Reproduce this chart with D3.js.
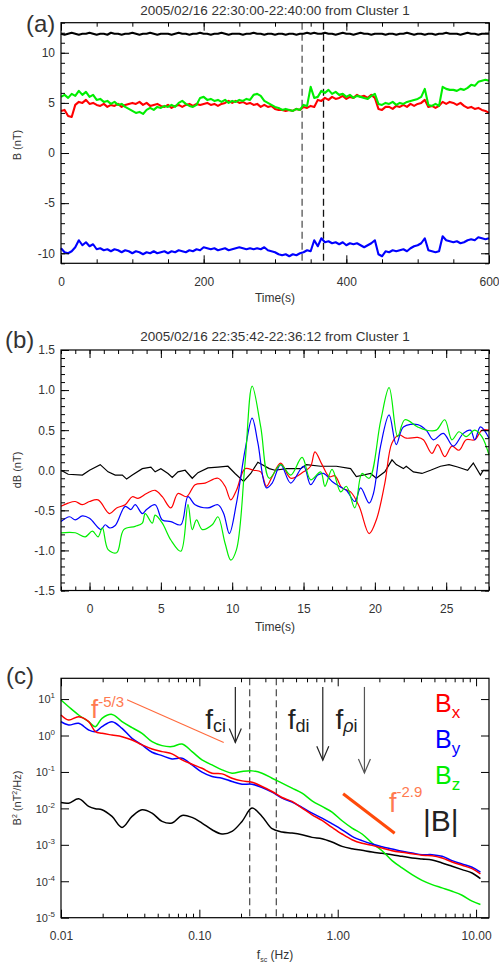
<!DOCTYPE html>
<html>
<head>
<meta charset="utf-8">
<script src="https://cdnjs.cloudflare.com/ajax/libs/d3/7.8.5/d3.min.js"></script>
<style>
body { margin: 0; background: #fff; }
svg { display: block; }
</style>
</head>
<body>
<div id="chart"></div>
<script>
// ---------- panel (a): 10 min of Cluster 1 field, 5 s samples ----------
var aTime = d3.range(0, 601, 5);
var aBx = [
  4.2, 4.3, 3.7, 3.6, 4.8, 5.1, 5.0, 5.3, 4.9, 5.0,
  4.8, 4.7, 4.9, 4.6, 4.8, 4.7, 4.9, 4.6, 4.8, 4.9,
  5.0, 4.9, 5.1, 4.8, 5.0, 4.7, 4.8, 4.9, 4.7, 4.6,
  4.8, 4.5, 4.7, 4.8, 4.6, 4.8, 4.9, 4.7, 4.9, 4.8,
  4.9, 5.0, 4.8, 4.9, 4.7, 4.9, 5.0, 5.2, 5.0, 5.2,
  5.0, 5.1, 4.9, 5.0, 4.8, 4.9, 4.6, 4.8, 4.6, 4.7,
  4.4, 4.3, 4.3, 4.2, 4.3, 4.2, 4.4, 4.3, 4.6, 4.5,
  4.7, 4.6, 5.3, 5.2, 5.5, 5.3, 5.6, 5.4, 5.5, 5.7,
  5.4, 5.6, 5.5, 5.8, 5.6, 5.7, 5.5, 5.8, 5.5, 4.4,
  4.3, 4.6, 4.6, 4.4, 4.7, 4.6, 4.8, 4.6, 4.9, 4.7,
  4.9, 5.0, 5.3, 4.6, 4.7, 4.5, 4.7, 5.1, 4.9, 5.1,
  5.0, 4.8, 5.0, 4.7, 4.5, 4.6, 4.4, 4.5, 4.3, 4.2,
  4.0];
var aBy = [
  -9.5, -9.9, -10.0, -9.8, -9.4, -8.7, -9.2, -8.9, -9.3, -9.1,
  -9.6, -9.5, -9.7, -9.6, -9.8, -9.6, -9.7, -9.9, -9.7, -9.8,
  -10.0, -9.8, -9.9, -10.1, -9.9, -10.0, -9.8, -10.0, -9.9, -9.8,
  -10.0, -9.8, -9.9, -9.7, -9.8, -9.9, -9.7, -9.8, -9.6, -9.7,
  -9.4, -9.5, -9.6, -9.5, -9.7, -9.6, -9.5, -9.7, -9.6, -9.5,
  -9.4, -9.5, -9.6, -9.5, -9.6, -9.5, -9.6, -9.4, -9.7, -9.8,
  -9.9, -10.1, -10.2, -10.1, -10.3, -10.1, -10.2, -10.0, -9.9, -9.7,
  -9.8, -8.7, -9.3, -8.5, -8.9, -8.8, -9.0, -8.9, -9.1, -8.9,
  -9.2, -9.0, -9.1, -9.0, -9.2, -9.4, -9.2, -9.0, -8.7, -10.1,
  -10.3, -9.8, -9.9, -9.7, -9.8, -9.7, -9.6, -9.8, -9.5, -9.3,
  -9.2, -9.0, -8.5, -9.7, -9.8, -9.9, -9.8, -8.3, -8.7, -8.8,
  -8.9, -8.8, -9.0, -8.9, -8.7, -8.6, -8.7, -8.4, -8.5, -8.6,
  -8.5];
var aBz = [
  5.6, 5.8, 5.5, 5.9, 5.7, 6.2, 5.8, 6.1, 5.6, 5.8,
  5.3, 5.4, 5.1, 5.2, 4.9, 5.1, 4.8, 4.9, 4.6, 4.4,
  4.2, 4.0, 4.1, 3.9, 4.3, 4.5, 4.3, 4.6, 4.5, 4.7,
  4.6, 4.8, 4.6, 5.0, 5.2, 4.9, 4.7, 4.6, 4.8, 5.5,
  5.6, 5.3, 5.4, 5.2, 5.3, 5.1, 5.3, 5.0, 5.2, 5.1,
  5.3, 5.2, 5.4, 5.3, 5.8, 5.9, 5.7, 5.2, 5.0, 4.8,
  4.6, 4.5, 4.3, 4.4, 4.3, 4.2, 4.4, 4.3, 4.8, 4.7,
  6.6, 5.5, 5.6, 6.2, 6.0, 6.3, 5.9, 6.1, 5.8, 5.9,
  5.6, 5.8, 5.5, 5.7, 5.6, 5.5, 5.4, 5.7, 5.9, 4.9,
  4.8, 5.0, 4.9, 5.1, 4.8, 5.0, 4.9, 5.1, 5.2, 5.3,
  5.4, 5.6, 6.4, 4.8, 4.7, 4.9, 4.7, 6.6, 6.4, 6.3,
  6.3, 6.2, 6.4, 6.3, 6.5, 6.8, 6.7, 7.1, 7.2, 7.3,
  7.2];
var aBt = [
  11.9, 11.8, 11.9, 12.0, 11.9, 11.8, 11.9, 11.9, 12.0, 11.9,
  11.8, 11.9, 11.9, 11.8, 12.0, 11.9, 11.9, 11.8, 11.9, 11.9,
  12.0, 11.9, 11.8, 11.9, 11.9, 12.0, 11.9, 11.8, 11.9, 11.9,
  11.9, 11.8, 11.9, 12.0, 11.9, 11.9, 11.8, 11.9, 11.9, 12.0,
  11.9, 11.9, 11.8, 11.9, 11.9, 12.0, 11.9, 11.8, 11.9, 11.9,
  11.9, 11.8, 11.9, 11.9, 12.0, 11.9, 11.9, 11.8, 11.9, 11.9,
  11.8, 11.9, 11.9, 11.8, 11.9, 11.9, 11.8, 11.9, 11.9, 12.0,
  11.9, 12.0, 11.9, 11.9, 12.0, 11.9, 11.9, 11.8, 11.9, 12.0,
  11.9, 11.9, 11.8, 11.9, 12.0, 11.9, 11.9, 11.8, 11.9, 11.9,
  11.9, 11.8, 11.9, 11.9, 11.8, 11.9, 11.9, 12.0, 11.9, 11.8,
  11.9, 11.9, 11.8, 11.9, 11.9, 11.8, 11.9, 11.9, 12.0, 11.9,
  11.9, 11.9, 11.8, 11.9, 12.0, 11.9, 11.9, 11.8, 11.9, 11.9,
  11.9];
var aMarks = [338, 368];

// ---------- panel (b): 30 s interval, fluctuations ----------
var bTimeK = [-2, -1.5, -0.5, 0, 0.75, 1.3, 1.8, 2.3, 2.6, 3.0, 3.7, 4.3, 4.6, 5.0, 5.5, 5.8, 6.2, 6.7, 7.2, 7.6,
  8.3, 9.0, 9.7, 10.2, 10.8, 11.3, 11.8, 12.6, 13.0, 13.8, 14.8, 15.2, 16.2, 17.3, 18.3, 18.7, 19.7, 20.1, 20.7,
  21.2, 21.5, 22.0, 22.2, 22.7, 23.3, 23.9, 24.6, 25.2, 25.8, 26.5, 26.9, 27.4, 27.6, 28];
var bValK = [0.0, -0.05, -0.06, 0.0, 0.07, -0.02, -0.06, -0.06, -0.11, -0.06, 0.02, 0.04, -0.02, 0.02, -0.04, -0.09,
  -0.02, 0.0, -0.10, -0.03, 0.03, 0.04, 0.05, -0.04, -0.14, -0.04, 0.10, 0.02, 0.0, 0.02, 0.02, 0.07, 0.05, 0.05,
  0.02, -0.08, -0.04, -0.10, -0.02, 0.13, 0.07, 0.02, 0.05, -0.02, -0.04, 0.0, 0.05, 0.07, 0.04, 0.0, 0.09, -0.06,
  0.0, 0.0];
var bTimeX = [-2, -1.5, -1.0, -0.5, 0, 0.6, 1.4, 1.9, 2.5, 3.0, 3.4, 4.0, 4.6, 5.1, 5.7, 6.2, 6.8, 7.4, 8.1, 9.0,
  9.5, 9.9, 10.3, 10.9, 11.5, 12.0, 12.4, 12.8, 13.4, 14.1, 15.0, 15.5, 15.8, 16.3, 16.8, 17.2, 17.7, 18.3, 18.9,
  19.6, 20.1, 20.7, 21.2, 21.7, 22.2, 23.0, 23.4, 24.0, 24.4, 24.9, 25.4, 25.9, 26.4, 27.0, 27.5, 28];
var bValX = [-0.45, -0.41, -0.39, -0.43, -0.39, -0.37, -0.54, -0.47, -0.43, -0.33, -0.35, -0.29, -0.25, -0.33,
  -0.47, -0.29, -0.33, -0.18, -0.16, -0.10, -0.20, -0.37, -0.25, 0.02, 0.0, -0.02, -0.20, -0.08, 0.09, -0.10,
  -0.02, 0.05, 0.23, 0.07, -0.08, -0.07, -0.22, -0.27, -0.45, -0.79, -0.62, -0.16, 0.34, 0.44, 0.40, 0.41, 0.38,
  0.21, 0.32, 0.17, 0.30, 0.25, 0.38, 0.38, 0.50, 0.50];
var bTimeY = [-2, -1.4, -1.0, -0.5, 0, 0.8, 1.1, 1.4, 1.8, 2.5, 2.9, 3.2, 3.7, 4.0, 4.6, 5.1, 5.7, 6.4, 6.9, 7.4,
  8.3, 9.0, 9.4, 9.8, 10.3, 10.9, 11.4, 11.8, 12.4, 12.8, 13.4, 14.1, 15.0, 15.5, 16.0, 16.4, 17.0, 17.5, 18.0,
  18.6, 19.0, 19.6, 19.9, 20.4, 21.0, 21.5, 22.0, 23.0, 23.6, 24.1, 24.8, 25.5, 26.2, 26.7, 27.0, 27.4, 28];
var bValY = [-0.64, -0.58, -0.62, -0.57, -0.60, -0.74, -0.68, -0.72, -0.69, -0.45, -0.49, -0.43, -0.54, -0.49,
  -0.43, -0.62, -0.64, -0.68, -0.33, -0.43, -0.47, -0.43, -0.54, -0.79, -0.41, 0.25, 0.65, 0.34, -0.22, -0.16,
  0.07, -0.16, 0.05, -0.18, -0.06, -0.04, -0.14, -0.20, -0.25, -0.39, -0.22, -0.41, -0.29, 0.30, 0.69, 0.32,
  0.54, 0.57, 0.50, 0.38, 0.46, 0.30, 0.46, 0.50, 0.38, 0.54, 0.40];
var bTimeZ = [-2, -1.0, -0.3, 0.2, 0.6, 0.9, 1.3, 1.9, 2.4, 3.2, 3.7, 3.9, 4.4, 4.6, 5.1, 5.7, 6.4, 6.9, 7.2, 7.5,
  7.9, 8.6, 9.0, 9.5, 9.9, 10.3, 10.9, 11.4, 12.0, 12.6, 13.4, 14.1, 14.9, 15.5, 16.2, 16.5, 17.0, 17.6, 18.0,
  18.6, 19.1, 19.6, 20.4, 21.0, 21.6, 22.1, 23.0, 23.6, 24.3, 24.9, 25.4, 25.9, 26.4, 27.0, 27.5, 28];
var bValZ = [-0.78, -0.78, -0.83, -0.76, -0.83, -0.72, -0.99, -1.03, -0.74, -0.70, -0.66, -0.54, -0.66, -0.56,
  -0.66, -0.87, -1.01, -0.43, -0.74, -0.62, -0.74, -0.68, -0.58, -0.91, -1.12, -0.99, 0.09, 1.05, 0.54, -0.10,
  0.07, -0.06, 0.16, -0.12, -0.02, -0.20, 0.01, -0.27, -0.20, -0.47, -0.04, -0.10, 0.61, 1.03, 0.42, 0.63, 0.54,
  0.50, 0.50, 0.63, 0.38, 0.48, 0.42, 0.50, 0.42, 0.19];

// ---------- panel (c): power spectra ----------
var cFreq = [0.0100, 0.01136, 0.01342, 0.01585, 0.01771, 0.01979, 0.02337, 0.02761, 0.03261, 0.03851,
  0.04549, 0.05373, 0.06346, 0.07496, 0.08853, 0.1045, 0.1235, 0.1459, 0.1722, 0.2034,
  0.2403, 0.2838, 0.3352, 0.3959, 0.4677, 0.5524, 0.6525, 0.7704, 0.9100, 1.075,
  1.270, 1.500, 1.771, 2.092, 2.471, 2.918, 3.446, 4.070, 4.808, 5.679,
  6.707, 7.922, 9.357, 10.75];
var cPx = [3.65, 2.66, 3.28, 2.40, 1.28, 1.15, 1.03, 0.93, 0.755, 0.551,
  0.428, 0.361, 0.313, 0.214, 0.163, 0.126, 0.0923, 0.0885, 0.0673, 0.0569,
  0.0524, 0.0398, 0.0291, 0.0199, 0.0155, 0.0102, 0.00668, 0.00468, 0.00301, 0.00198,
  0.00138, 0.00110, 0.000966, 0.000817, 0.000690, 0.000622, 0.000571, 0.000515, 0.000505, 0.000436,
  0.000339, 0.000274, 0.000222, 0.000159];
var cPy = [2.40, 1.94, 2.16, 1.42, 1.28, 1.75, 2.40, 1.57, 0.838, 0.551,
  0.347, 0.281, 0.228, 0.238, 0.156, 0.0984, 0.0748, 0.0673, 0.0546, 0.0461,
  0.0461, 0.0374, 0.0279, 0.0191, 0.0149, 0.0106, 0.00741, 0.00542, 0.00378, 0.00259,
  0.00171, 0.00130, 0.00105, 0.000889, 0.000767, 0.000662, 0.000597, 0.000537, 0.000537, 0.000483,
  0.000368, 0.000298, 0.000242, 0.000178];
var cPz = [9.40, 6.17, 3.65, 2.40, 1.75, 2.96, 3.80, 2.40, 1.64, 1.15,
  0.679, 0.528, 0.496, 0.586, 0.361, 0.214, 0.156, 0.114, 0.0923, 0.103,
  0.107, 0.0923, 0.0673, 0.0492, 0.0359, 0.0262, 0.0161, 0.0113, 0.00791, 0.00458,
  0.00288, 0.00198, 0.00112, 0.000690, 0.000368, 0.000232, 0.000152, 0.000106, 0.0000811, 0.0000657,
  0.0000532, 0.0000414, 0.0000284, 0.0000230];
var cPt = [0.0145, 0.0139, 0.0183, 0.0113, 0.00975, 0.00916, 0.00601, 0.00301, 0.00601, 0.00916,
  0.00741, 0.00439, 0.00395, 0.00641, 0.00565, 0.00395, 0.00259, 0.00198, 0.00234, 0.00439,
  0.01017, 0.00601, 0.00277, 0.00224, 0.00210, 0.00189, 0.00160, 0.00147, 0.00119, 0.000908,
  0.000783, 0.000706, 0.000635, 0.000584, 0.000537, 0.000483, 0.000436, 0.000408, 0.000384, 0.000318,
  0.000258, 0.000209, 0.000169, 0.000118];
var cMarks = [0.231, 0.36];
var slope53F = [0.030, 0.150], slope53V = [9.6, 0.64];
var slope29F = [1.094, 2.58], slope29V = [0.0253, 0.00208];
var arrowNames = ['ci', 'di', 'ρi'];
var arrowF = [0.182, 0.78, 1.56];
var arrowTop = 21.5;
var arrowEnd = [0.64, 0.21, 0.094];

var compNames = ['x', 'y', 'z'];
var compColors = ['#ff0000', '#0000ff', '#00ee00'];

var FONT = '"Liberation Sans", Arial, Helvetica, sans-serif';
var X0 = 61, X1 = 489;

var svg = d3.select('#chart').append('svg')
    .attr('width', 499).attr('height', 969)
    .attr('font-family', FONT);

function blank() { return ''; }

function put(g, fn, sc, vals, len, tx, ty, fmt, pad) {
    var a = fn(sc).tickValues(vals).tickSizeInner(-len).tickSizeOuter(0)
        .tickPadding(pad || 0).tickFormat(fmt || blank);
    var s = g.append('g').attr('transform', 'translate(' + tx + ',' + ty + ')').call(a)
        .attr('font-family', FONT).attr('font-size', 12);
    s.select('.domain').remove();
    s.selectAll('line').attr('stroke', '#000');
    s.selectAll('text').attr('fill', '#333');
    return s;
}

function axes(g, x, y, xMaj, xMin, yMaj, yMin, xFmt, yFmt) {
    var yb = y.range()[0], yt = y.range()[1];
    put(g, d3.axisBottom, x, xMin, 4, 0, yb);
    put(g, d3.axisBottom, x, xMaj, 8, 0, yb, xFmt, 14);
    put(g, d3.axisTop, x, xMin, 4, 0, yt);
    put(g, d3.axisTop, x, xMaj, 8, 0, yt);
    if (yMin) put(g, d3.axisLeft, y, yMin, 4, X0, 0);
    var yl = put(g, d3.axisLeft, y, yMaj, 8, X0, 0, yFmt, 6);
    if (yMin) put(g, d3.axisRight, y, yMin, 4, X1, 0);
    put(g, d3.axisRight, y, yMaj, 8, X1, 0);
    g.append('rect').attr('x', X0).attr('y', yt).attr('width', X1 - X0).attr('height', yb - yt)
        .attr('fill', 'none').attr('stroke', '#000').attr('stroke-width', 1.2);
    return yl;
}

function label(txt, x, y, size) {
    return svg.append('text').attr('x', x).attr('y', y).attr('font-size', size)
        .attr('fill', '#333').text(txt);
}

function yTitle(x, y) {
    return svg.append('text').attr('transform', 'translate(' + x + ',' + y + ') rotate(-90)')
        .attr('text-anchor', 'middle').attr('font-size', 11).attr('fill', '#333');
}

// ================= (a) =================
var ga = svg.append('g');
var xa = d3.scaleLinear().domain([0, 600]).range([X0, X1]);
var ya = d3.scaleLinear().domain([-11, 13]).range([263.3, 22.7]);

aMarks.forEach(function (t, i) {
    ga.append('line').attr('x1', xa(t)).attr('x2', xa(t)).attr('y1', ya(13)).attr('y2', ya(-11))
        .attr('stroke', i ? '#111' : '#555').attr('stroke-width', 1.3).attr('stroke-dasharray', '7,4');
});

var la = d3.line().x(function (d, i) { return xa(aTime[i]); }).y(function (d) { return ya(d); });
[[aBt, '#000'], [aBx, compColors[0]], [aBz, compColors[2]], [aBy, compColors[1]]].forEach(function (s) {
    ga.append('path').attr('d', la(s[0])).attr('fill', 'none').attr('stroke', s[1])
        .attr('stroke-width', 2.1).attr('stroke-linejoin', 'round');
});

axes(ga, xa, ya, [0, 200, 400, 600], d3.range(0, 601, 50), [-10, -5, 0, 5, 10], d3.range(-11, 14),
    function (d) { return String(d); }, function (d) { return String(d); });

label('2005/02/16 22:30:00-22:40:00 from Cluster 1', 275, 15, 13.5).attr('text-anchor', 'middle');
label('(a)', 26, 32, 24);
label('Time(s)', 275, 302, 12).attr('text-anchor', 'middle');
yTitle(21, 145).text('B (nT)');

// ================= (b) =================
var gb = svg.append('g');
var xb = d3.scaleLinear().domain([-2, 28]).range([X0, X1]);
var yb = d3.scaleLinear().domain([-1.5, 1.5]).range([590.5, 350]);

function lb(times) {
    return d3.line().curve(d3.curveCatmullRom.alpha(0.5))
        .x(function (d, i) { return xb(times[i]); }).y(function (d) { return yb(d); });
}
gb.append('path').attr('d', d3.line().x(function (d, i) { return xb(bTimeK[i]); })
    .y(function (d) { return yb(d); })(bValK))
    .attr('fill', 'none').attr('stroke', '#000').attr('stroke-width', 1.2);
[[bTimeX, bValX, compColors[0]], [bTimeY, bValY, compColors[1]], [bTimeZ, bValZ, compColors[2]]].forEach(function (s) {
    gb.append('path').attr('d', lb(s[0])(s[1])).attr('fill', 'none').attr('stroke', s[2]).attr('stroke-width', 1.2);
});

axes(gb, xb, yb, [0, 5, 10, 15, 20, 25], d3.range(-2, 29), [-1.5, -1, -0.5, 0, 0.5, 1, 1.5],
    d3.range(-15, 16).map(function (d) { return d / 10; }),
    function (d) { return String(d); }, function (d) { return d.toFixed(1); });

label('2005/02/16 22:35:42-22:36:12 from Cluster 1', 275, 341, 13.5).attr('text-anchor', 'middle');
label('(b)', 5, 348, 24);
label('Time(s)', 275, 631, 12).attr('text-anchor', 'middle');
yTitle(21, 470).text('dB (nT)');

// ================= (c) =================
var gc = svg.append('g');
var xc = d3.scaleLog().domain([0.01, 12.4]).range([X0, X1]);
var yc = d3.scaleLog().domain([1e-5, Math.pow(10, 1.57)]).range([917.7, 678.3]);

cMarks.forEach(function (f) {
    gc.append('line').attr('x1', xc(f)).attr('x2', xc(f)).attr('y1', yc.range()[1]).attr('y2', yc.range()[0])
        .attr('stroke', '#555').attr('stroke-width', 1.3).attr('stroke-dasharray', '7,4');
});

var lc = d3.line().curve(d3.curveCatmullRom.alpha(0.5))
    .x(function (d, i) { return xc(cFreq[i]); }).y(function (d) { return yc(d); });
[[cPt, '#000'], [cPz, compColors[2]], [cPy, compColors[1]], [cPx, compColors[0]]].forEach(function (s) {
    gc.append('path').attr('d', lc(s[0])).attr('fill', 'none').attr('stroke', s[1]).attr('stroke-width', 1.5);
});

// power-law guides
gc.append('line').attr('x1', xc(slope53F[0])).attr('y1', yc(slope53V[0]))
    .attr('x2', xc(slope53F[1])).attr('y2', yc(slope53V[1])).attr('stroke', '#ff6a3d').attr('stroke-width', 1.1);
gc.append('line').attr('x1', xc(slope29F[0])).attr('y1', yc(slope29V[0]))
    .attr('x2', xc(slope29F[1])).attr('y2', yc(slope29V[1])).attr('stroke', '#ff4a0a').attr('stroke-width', 3);

var t53 = gc.append('text').attr('x', 91).attr('y', 718).attr('fill', '#ff7a50').attr('font-size', 26);
t53.append('tspan').text('f');
t53.append('tspan').attr('dy', -11).attr('font-size', 15).text('-5/3');
var t29 = gc.append('text').attr('x', 389).attr('y', 811.5).attr('fill', '#ff7a50').attr('font-size', 27);
t29.append('tspan').text('f');
t29.append('tspan').attr('dy', -15).attr('font-size', 15).text('-2.9');

// characteristic-frequency arrows
var arrowLabelOff = [30, 35, 29];
arrowF.forEach(function (f, i) {
    var x = xc(f), y0 = yc(arrowTop), y1 = yc(arrowEnd[i]);
    var col = i === 2 ? '#555' : '#222';
    gc.append('line').attr('x1', x).attr('x2', x).attr('y1', y0).attr('y2', y1)
        .attr('stroke', col).attr('stroke-width', 1.2);
    gc.append('path').attr('d', 'M' + (x - 6) + ',' + (y1 - 14) + 'L' + x + ',' + y1 + 'L' + (x + 6) + ',' + (y1 - 14))
        .attr('fill', 'none').attr('stroke', col).attr('stroke-width', 1.2);
    var t = gc.append('text').attr('x', x - arrowLabelOff[i]).attr('y', 729).attr('font-size', 28).attr('fill', '#222');
    t.append('tspan').text('f');
    var sub = t.append('tspan').attr('dy', 3).attr('font-size', 18);
    if (i === 2) {
        sub.append('tspan').attr('font-style', 'italic').text('ρ');
        sub.append('tspan').text('i');
    } else {
        sub.text(arrowNames[i]);
    }
});

// legend
compNames.forEach(function (n, i) {
    var t = gc.append('text').attr('x', 435).attr('y', [711.5, 748, 783.5][i])
        .attr('font-size', 25).attr('fill', compColors[i]);
    t.append('tspan').text('B');
    t.append('tspan').attr('dy', 6).attr('font-size', 17).text(n);
});
gc.append('text').attr('x', 423).attr('y', 831).attr('font-size', 30).attr('fill', '#222').text('|B|');

axes(gc, xc, yc, [0.01, 0.1, 1, 10],
    [0.02, 0.03, 0.04, 0.05, 0.06, 0.07, 0.08, 0.09, 0.2, 0.3, 0.4, 0.5, 0.6, 0.7, 0.8, 0.9, 2, 3, 4, 5, 6, 7, 8, 9],
    [1e-5, 1e-4, 1e-3, 1e-2, 1e-1, 1, 10], null,
    d3.format('.2f'), blank)
    .selectAll('.tick text').each(function (d) {
        var t = d3.select(this);
        t.append('tspan').text('10').attr('font-size', 11);
        t.append('tspan').attr('dy', -5).attr('font-size', 8).text(String(Math.round(Math.log10(d))));
    });

label('(c)', 6, 684, 24);
var xt = label('', 275, 959, 12).attr('text-anchor', 'middle');
xt.append('tspan').text('f');
xt.append('tspan').attr('dy', 3).attr('font-size', 7).text('sc');
xt.append('tspan').attr('dy', -3).text(' (Hz)');
var yt = yTitle(21, 798);
yt.append('tspan').text('B');
yt.append('tspan').attr('dy', -4).attr('font-size', 7).text('2');
yt.append('tspan').attr('dy', 4).text(' (nT');
yt.append('tspan').attr('dy', -4).attr('font-size', 7).text('2');
yt.append('tspan').attr('dy', 4).text('/Hz)');
</script>
</body>
</html>
